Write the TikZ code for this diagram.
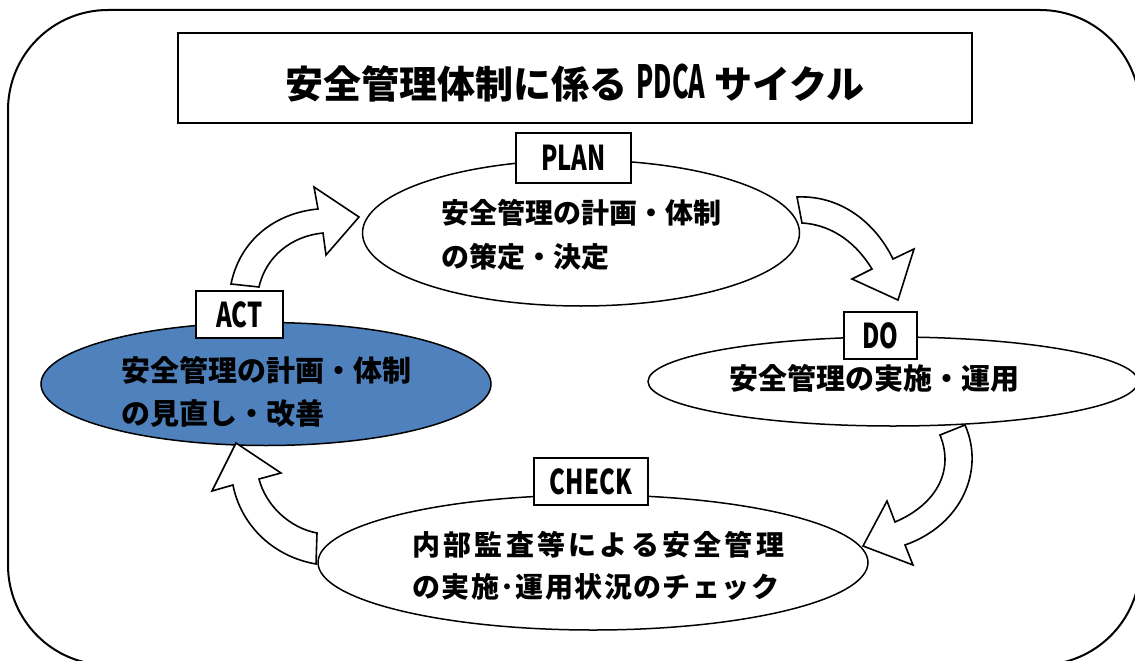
\documentclass[tikz,border=0pt]{standalone}
\usepackage{fontspec}
\setmainfont{Noto Sans CJK JP}
\usepackage{graphicx}
\usetikzlibrary{shapes.geometric}
\definecolor{actblue}{RGB}{79,129,189}
\newcommand{\narrowlat}[1]{\scalebox{0.85}[1.22]{#1}}
\newcommand{\titlelat}[1]{\scalebox{0.66}[1.2]{#1}}
\begin{document}
\begin{tikzpicture}[x=1pt,y=-1pt,
  ell/.style={draw=black, line width=1.5pt, ellipse, inner sep=0pt, fill=white},
  lab/.style={draw=black, line width=1.6pt, fill=white, inner sep=0pt,
    font=\bfseries\fontsize{28}{28}\selectfont},
  body/.style={font=\bfseries\fontsize{29}{43}\selectfont, align=left, inner sep=0pt},
  barrow/.style={draw=black, line width=1.6pt, fill=white, line join=miter}]
\useasboundingbox (0,0) rectangle (1135,661);
\clip (0,0) rectangle (1135,661);
\draw[line width=2pt, rounded corners=100pt] (8,10) rectangle (1140,665);

% title
\node[draw, line width=2.5pt, minimum width=794pt, minimum height=90pt, inner sep=0pt] (titlebox) at (575,78) {};
\node[inner sep=0pt, font=\bfseries\fontsize{38}{38}\selectfont] (title) at (575,83)
  {安全管理体制に係る \titlelat{PDCA} サイクル};

% ellipses
\node[ell, minimum width=437pt, minimum height=146pt] (plan) at (581,233) {};
\node[ell, minimum width=490pt, minimum height=89pt] (do) at (893,381.5) {};
\node[ell, fill=actblue, minimum width=450pt, minimum height=123pt] (act) at (266,384) {};
\node[ell, minimum width=550pt, minimum height=135pt] (check) at (593,562.5) {};

% texts
\node[body, font=\bfseries\fontsize{28}{44}\selectfont, anchor=west] (plantext) at (441,234.5)
  {安全管理の計画・体制\\の策定・決定};
\node[body] (dotext) at (874,378) {安全管理の実施・運用};
\node[body, anchor=west] (acttext) at (121,391.5) {安全管理の計画・体制\\の見直し・改善};
\node[body, font=\bfseries\fontsize{28}{42}\selectfont, anchor=west] (checktext) at (412,566)
  {\makebox[372pt][s]{内\hfil 部\hfil 監\hfil 査\hfil 等\hfil に\hfil よ\hfil る\hfil 安\hfil 全\hfil 管\hfil 理}\\
   \makebox[367pt][s]{の\hfil 実\hfil 施\hfil ･\hfil 運\hfil 用\hfil 状\hfil 況\hfil の\hfil チ\hfil ェ\hfil ッ\hfil ク}};

% block arrows
\draw[barrow] (231,284) .. controls (240,240) and (275,213) .. (318,209) -- (314,187) -- (359,217)
  -- (326,255) -- (323,233) .. controls (292,236) and (266,256) .. (259,287) -- cycle;
\draw[barrow] (797,197) .. controls (840,195) and (875,222) .. (893,259) -- (914,249) -- (898,300)
  -- (852,279) -- (872,269) .. controls (858,246) and (835,225) .. (802,223) -- cycle;
\draw[barrow] (965,425) .. controls (985,470) and (962,525) .. (905,545) -- (913,565) -- (863,546)
  -- (887,501) -- (895,522) .. controls (935,505) and (955,472) .. (940,435) -- cycle;
\draw[barrow] (316,564) .. controls (270,556) and (240,522) .. (233,485) -- (212,491) -- (236,443)
  -- (281,473) -- (259,479) .. controls (266,506) and (290,528) .. (317,533) -- cycle;

% labels
\node[lab, minimum width=115pt, minimum height=50pt] (planlab) at (573.5,158) {\narrowlat{PLAN}};
\node[lab, minimum width=73pt, minimum height=47pt] (dolab) at (880.5,335.5) {\narrowlat{DO}};
\node[lab, minimum width=87pt, minimum height=47pt] (actlab) at (239.5,314.5) {\narrowlat{ACT}};
\node[lab, minimum width=114pt, minimum height=47pt] (checklab) at (591,481.5) {\narrowlat{CHECK}};
\end{tikzpicture}
\end{document}
